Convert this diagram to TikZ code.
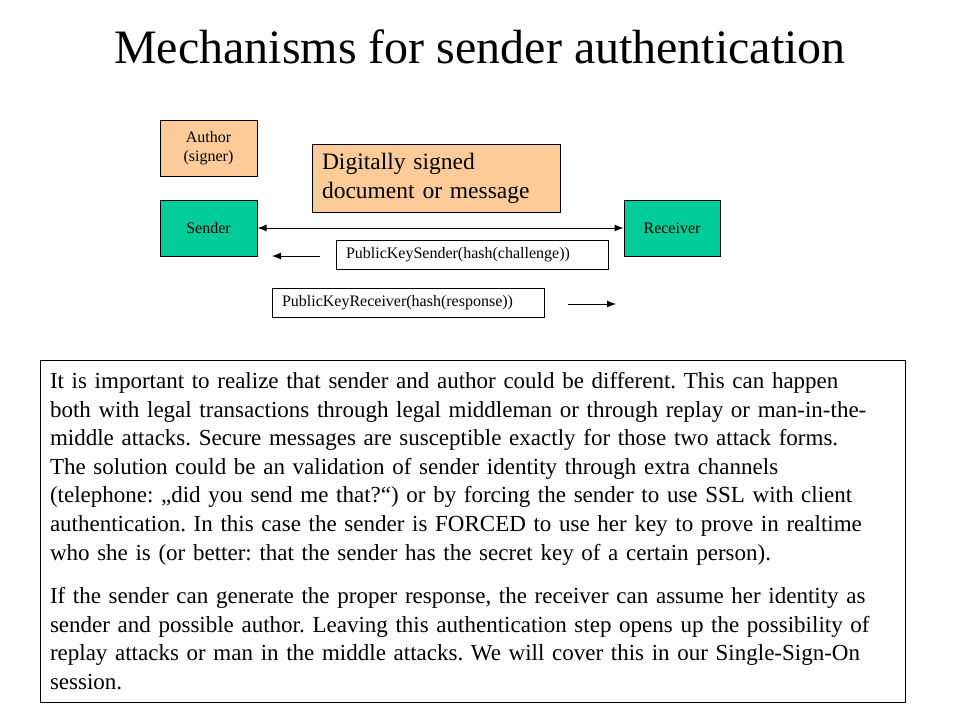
\documentclass[tikz,border=0pt]{standalone}
\usepackage{fontspec}
\setmainfont{Liberation Serif}
\usepackage{tikz}
\usetikzlibrary{arrows,arrows.meta,positioning}
\definecolor{peach}{HTML}{FFCC99}
\definecolor{sea}{HTML}{00CC99}
\frenchspacing

\begin{document}
\begin{tikzpicture}[x=1pt, y=-1pt, line width=1pt, >={Latex[length=9pt,width=7pt]},
	box/.style={draw, inner sep=0pt, font=\fontsize{16}{19}\selectfont, align=center},
	party/.style={box, fill=sea, minimum width=97, minimum height=56},
	msg/.style={draw, inner ysep=0pt, inner xsep=10pt, minimum height=29, text width=252, align=left, font=\fontsize{16}{19}\selectfont}]
	\useasboundingbox (0,0) rectangle (960,720);

	\node (title) at (480,47) {\fontsize{48}{54}\selectfont Mechanisms for sender authentication};

	\node (author) at (208.5,148) [box, fill=peach, minimum width=97, minimum height=56] {Author\\(signer)};
	\node (doc) at (436,178) [draw, fill=peach, inner ysep=0pt, inner xsep=10pt, text width=228, minimum height=68, align=left, font=\fontsize{23.5}{29}\selectfont] {Digitally signed\\document or message};

	\node (sender) at (208.5,228) [party] {Sender};
	\node (receiver) at (672,228) [party, minimum width=96] {Receiver};
	\draw [<->] (sender.east) -- (receiver.west);

	\node (challenge) at (472,254.5) [msg] {PublicKeySender(hash(challenge))};
	\node (response) at (408,302.5) [msg] {PublicKeyReceiver(hash(response))};

	% free ends of the two short arrows
	\coordinate (ltail) at (320,256);
	\coordinate (lhead) at (272,256);
	\coordinate (rtail) at (568,304);
	\coordinate (rhead) at (616,304);
	\draw [->] (ltail) -- (lhead);
	\draw [->] (rtail) -- (rhead);

	\node (note) at (472.5,531) [draw, minimum width=865, minimum height=342, inner xsep=10pt, text width=845, align=left, font=\fontsize{23}{28.6}\selectfont]
	{It is important to realize that sender and author could be different. This can happen\\
	both with legal transactions through legal middleman or through replay or man-in-the-\\
	middle attacks. Secure messages are susceptible exactly for those two attack forms.\\
	The solution could be an validation of sender identity through extra channels\\
	(telephone: „did you send me that?“) or by forcing the sender to use SSL with client\\
	authentication. In this case the sender is FORCED to use her key to prove in realtime\\
	who she is (or better: that the sender has the secret key of a certain person).\\[15pt]
	If the sender can generate the proper response, the receiver can assume her identity as\\
	sender and possible author. Leaving this authentication step opens up the possibility of\\
	replay attacks or man in the middle attacks. We will cover this in our Single-Sign-On\\
	session.};
\end{tikzpicture}
\end{document}
